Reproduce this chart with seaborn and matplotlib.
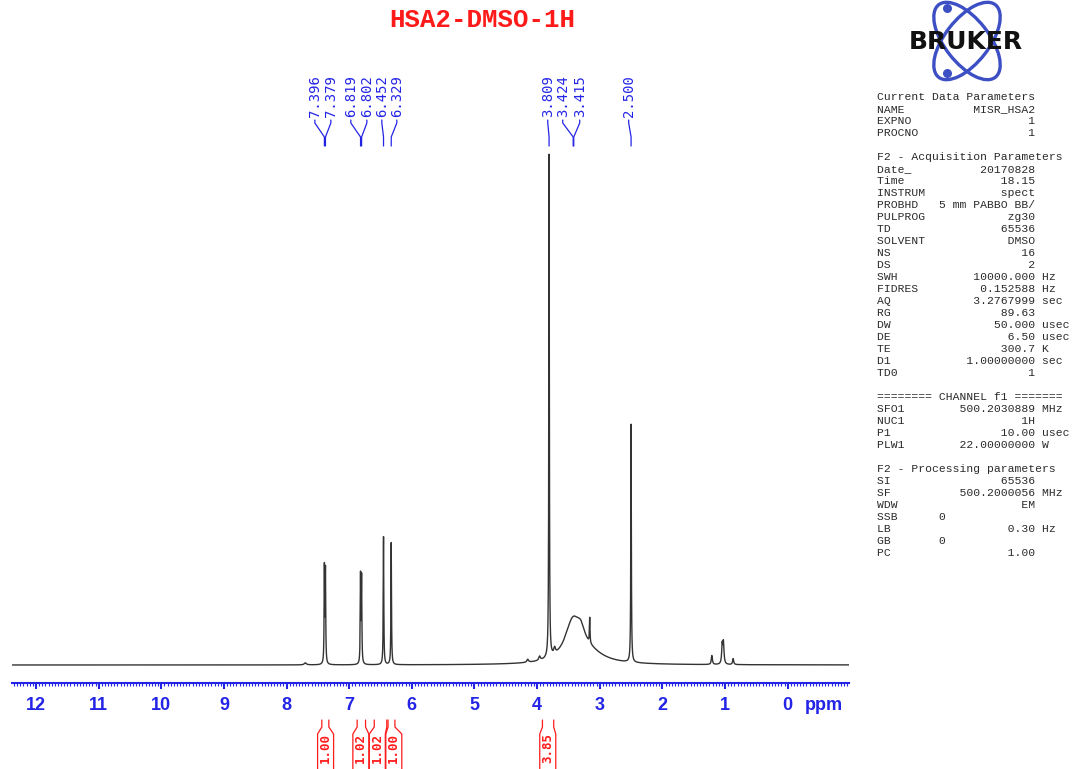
import numpy as np
import matplotlib
matplotlib.use("Agg")
import matplotlib.pyplot as plt
import matplotlib.transforms as mtransforms
from matplotlib.patches import Ellipse
from matplotlib.ticker import MultipleLocator
import seaborn as sns

W, H = 1076, 769
BLUE = "#2424e6"
RED = "#ff1a1a"
INK = "#2a2a2a"

TITLE = "HSA2-DMSO-1H"

# peak list: shift (ppm), height above baseline, line width (ppm)
PEAK_SHIFT = [7.396, 7.379, 6.819, 6.802, 6.452, 6.329, 3.809, 3.720,
              3.430, 3.300, 3.200, 3.160, 2.500, 1.210, 1.045, 1.025,
              0.870, 4.150, 3.960, 7.700]
PEAK_HEIGHT = [95, 92, 87, 85, 128, 122, 503, 6,
               38, 13, 11, 25, 238, 9, 19, 21,
               6, 3, 4, 2]
PEAK_WIDTH = [0.010, 0.010, 0.010, 0.010, 0.010, 0.010, 0.010, 0.030,
              0.300, 0.150, 0.600, 0.010, 0.010, 0.020, 0.020, 0.020,
              0.020, 0.030, 0.030, 0.040]

# picked peaks shown above the spectrum, and where each label sits (ppm)
PICK_TEXT = ["7.396", "7.379", "6.819", "6.802", "6.452", "6.329",
             "3.809", "3.424", "3.415", "2.500"]
PICK_SHIFT = [7.396, 7.379, 6.819, 6.802, 6.452, 6.329, 3.809, 3.424, 3.415, 2.500]
PICK_LABEL_AT = [7.548, 7.293, 6.974, 6.718, 6.479, 6.240, 3.830, 3.591, 3.320, 2.538]

# integrals below the axis
INT_TEXT = ["1.00", "1.02", "1.02", "1.00", "3.85"]
INT_FROM = [7.437, 6.873, 6.600, 6.380, 3.915]
INT_TO = [7.325, 6.739, 6.400, 6.270, 3.735]
INT_LABEL_AT = [7.377, 6.814, 6.551, 6.288, 3.830]

XTICKS = list(range(0, 13))

PARAM_HEAD = "Current Data Parameters"
PARAM_ROWS = [
    ("NAME", "MISR_HSA2", ""), ("EXPNO", "1", ""), ("PROCNO", "1", ""),
    None,
    "F2 - Acquisition Parameters",
    ("Date_", "20170828", ""), ("Time", "18.15", ""), ("INSTRUM", "spect", ""),
    ("PROBHD", "5 mm PABBO BB/", ""), ("PULPROG", "zg30", ""), ("TD", "65536", ""),
    ("SOLVENT", "DMSO", ""), ("NS", "16", ""), ("DS", "2", ""),
    ("SWH", "10000.000", "Hz"), ("FIDRES", "0.152588", "Hz"),
    ("AQ", "3.2767999", "sec"), ("RG", "89.63", ""), ("DW", "50.000", "usec"),
    ("DE", "6.50", "usec"), ("TE", "300.7", "K"), ("D1", "1.00000000", "sec"),
    ("TD0", "1", ""),
    None,
    "======== CHANNEL f1 =======",
    ("SFO1", "500.2030889", "MHz"), ("NUC1", "1H", ""), ("P1", "10.00", "usec"),
    ("PLW1", "22.00000000", "W"),
    None,
    "F2 - Processing parameters",
    ("SI", "65536", ""), ("SF", "500.2000056", "MHz"), ("WDW", "EM", ""),
    ("SSB", "0", "left"), ("LB", "0.30", "Hz"), ("GB", "0", "left"), ("PC", "1.00", ""),
]


def fy(px):
    return 1 - px / H


def param_line(row):
    if row is None:
        return ""
    if isinstance(row, str):
        return row
    name, value, unit = row
    if unit == "left":
        return name.ljust(9) + value
    line = name + value.rjust(23 - len(name))
    if unit:
        line += " " + unit
    return line


sns.set_theme(style="white")
plt.rcParams["font.family"] = ["Liberation Sans", "DejaVu Sans"]

fig = plt.figure(figsize=(W / 100, H / 100), dpi=100)
fig.patch.set_facecolor("white")

left_px, right_px, top_px, bottom_px = 11.7, 849, 150, 683
ax = fig.add_axes([left_px / W, 1 - bottom_px / H,
                   (right_px - left_px) / W, (bottom_px - top_px) / H])
ax.set_facecolor("white")

ppm = np.arange(-0.979, 12.388, 0.0005)
intensity = np.zeros_like(ppm)
for c, h, w in zip(PEAK_SHIFT, PEAK_HEIGHT, PEAK_WIDTH):
    intensity += h / (1 + ((ppm - c) / (w / 2)) ** 2)

sns.lineplot(x=ppm, y=intensity, ax=ax, color="#333333", linewidth=1.0,
             estimator=None, sort=False)

ax.set_xlim(12.388, -0.979)
ax.set_ylim(-18, 515)
ax.set_xlabel("")
ax.set_ylabel("")
ax.set_yticks([])
for side in ["left", "right", "top"]:
    ax.spines[side].set_visible(False)
ax.spines["bottom"].set_color(BLUE)
ax.spines["bottom"].set_linewidth(1.5)
ax.set_xticks(XTICKS)
ax.set_xticklabels([str(t) for t in XTICKS])
ax.xaxis.set_minor_locator(MultipleLocator(0.05))
ax.tick_params(axis="x", which="major", direction="out", length=4, width=1.5,
               color=BLUE, pad=6, labelsize=13, labelcolor=BLUE, bottom=True)
ax.tick_params(axis="x", which="minor", direction="out", length=2, width=0.8,
               color=BLUE, bottom=True)
for lab in ax.get_xticklabels():
    lab.set_fontweight("bold")

trans = mtransforms.blended_transform_factory(ax.transData, fig.transFigure)

ax.text(-0.58, fy(706), "ppm", transform=trans, ha="center", va="center",
        fontsize=13, fontweight="bold", color=BLUE, clip_on=False)

# peak picking labels
for txt, shift, at in zip(PICK_TEXT, PICK_SHIFT, PICK_LABEL_AT):
    ax.text(at, fy(117), txt, transform=trans, rotation=90, ha="center",
            va="bottom", fontsize=10, family="DejaVu Sans Mono", color=BLUE,
            clip_on=False)
    ax.plot([at, at, shift, shift], [fy(120), fy(123), fy(137), fy(146)],
            transform=trans, color=BLUE, linewidth=0.9, clip_on=False)

# integrals
hw = 8 / 62.64
for txt, a, b, at in zip(INT_TEXT, INT_FROM, INT_TO, INT_LABEL_AT):
    for top, bot in [(a, at + hw), (b, at - hw)]:
        ax.plot([top, top, bot, bot], [fy(720), fy(727), fy(734), fy(769)],
                transform=trans, color=RED, linewidth=0.9, clip_on=False)
    ax.text(at, fy(748), txt, transform=trans, rotation=90, ha="center",
            va="center", fontsize=9, fontweight="bold", family="DejaVu Sans Mono",
            color=RED, clip_on=False)

fig.text(482 / W, fy(20), TITLE, ha="center", va="center", fontsize=18.5,
         fontweight="bold", family="Liberation Mono", color=RED)

# parameter listing
lines = [PARAM_HEAD] + [param_line(r) for r in PARAM_ROWS]
for i, line in enumerate(lines):
    if line:
        fig.text(877 / W, fy(97 + 12 * i), line, ha="left", va="center",
                 fontsize=8.2, family="Liberation Mono", color=INK)

# logo
lax = fig.add_axes([895 / W, 1 - 85 / H, 145 / W, 85 / H])
lax.set_xlim(895, 1040)
lax.set_ylim(85, 0)
lax.axis("off")
for ang in (52, -52):
    lax.add_patch(Ellipse((967, 41), 92, 44, angle=ang, fill=False,
                          edgecolor="#3d4fc4", linewidth=2.4))
lax.scatter([947, 947], [8, 73], s=30, color="#3d4fc4", zorder=3)
lax.text(966, 42, "BRUKER", ha="center", va="center", fontsize=18,
         fontweight="bold", family="DejaVu Sans", color="#111111", zorder=4)

fig.savefig("out.png", dpi=100)
